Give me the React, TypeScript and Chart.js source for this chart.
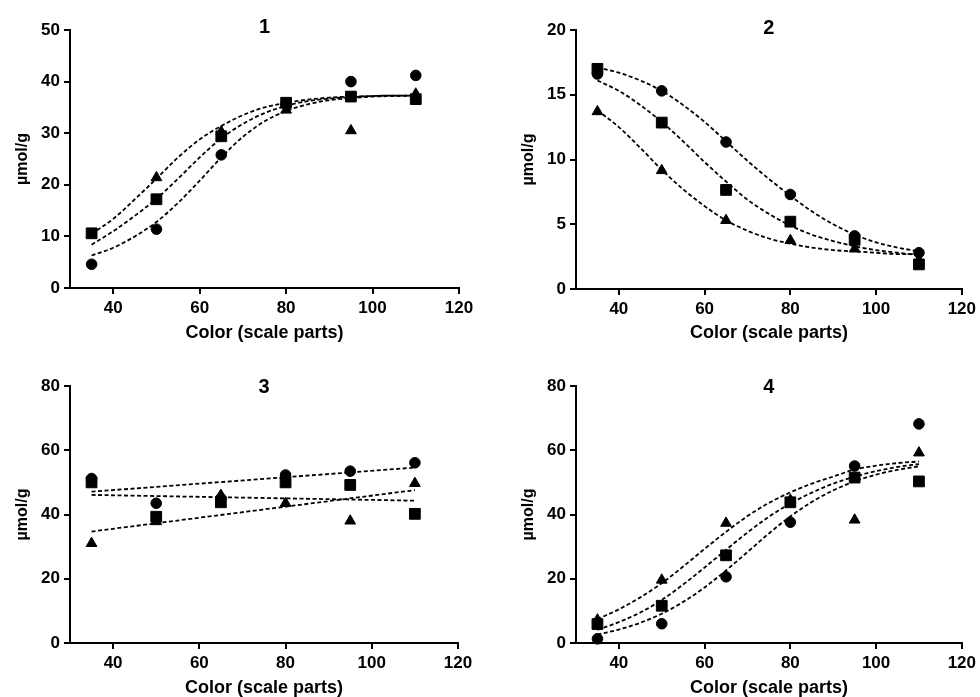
import React, { useEffect, useRef } from "react";
import { Chart, registerables } from "chart.js";
Chart.register(...registerables);

const FONT = "'Liberation Sans', Arial, sans-serif";

// Measured x positions (scale parts)
const xPoints = [35, 50, 65, 80, 95, 110];
const curveX = [35, 40, 45, 50, 55, 60, 65, 70, 75, 80, 85, 90, 95, 100, 105, 110];
const lineX = [35, 110];
const xTickValues = [40, 60, 80, 100, 120];

// Panel 1
const p1Circle = [4.6, 11.4, 25.8, 35.6, 40.0, 41.2];
const p1Square = [10.6, 17.2, 29.4, 35.9, 37.1, 36.6];
const p1Triangle = [10.4, 21.4, 30.3, 34.5, 30.5, 37.6];
const p1CircleFit = [6.3, 7.8, 10.0, 12.8, 16.5, 20.8, 25.3, 29.3, 32.3, 34.3, 35.6, 36.4, 36.8, 37.1, 37.2, 37.3];
const p1SquareFit = [8.4, 11.0, 14.0, 17.3, 21.2, 25.3, 29.0, 31.8, 33.9, 35.3, 36.2, 36.7, 37.0, 37.2, 37.3, 37.3];
const p1TriangleFit = [10.5, 13.4, 17.2, 21.2, 25.3, 28.8, 31.4, 33.5, 35.0, 35.9, 36.5, 36.9, 37.1, 37.2, 37.3, 37.3];
const p1YTicks = [0, 10, 20, 30, 40, 50];

// Panel 2
const p2Circle = [16.6, 15.3, 11.35, 7.3, 4.1, 2.8];
const p2Square = [17.0, 12.85, 7.65, 5.2, 3.8, 1.9];
const p2Triangle = [13.7, 9.15, 5.3, 3.75, 3.1, 2.2];
const p2CircleFit = [17.1, 16.7, 16.1, 15.3, 14.2, 12.9, 11.4, 9.9, 8.5, 7.2, 6.0, 5.0, 4.2, 3.6, 3.2, 2.9];
const p2SquareFit = [16.1, 15.3, 14.2, 12.9, 11.4, 9.8, 8.3, 6.9, 5.8, 4.9, 4.2, 3.7, 3.3, 3.0, 2.8, 2.6];
const p2TriangleFit = [13.8, 12.5, 10.9, 9.2, 7.7, 6.4, 5.3, 4.5, 3.9, 3.5, 3.2, 3.0, 2.9, 2.8, 2.7, 2.7];
const p2YTicks = [0, 5, 10, 15, 20];

// Panel 3
const p3Circle = [51.2, 43.5, 45.0, 52.3, 53.5, 56.1];
const p3Square = [50.0, 39.3, 43.8, 50.0, 49.2, 40.2];
const p3Triangle = [31.0, 37.8, 46.0, 43.5, 38.0, 49.7];
const p3CircleFit = [47.1, 54.6];
const p3SquareFit = [46.1, 44.3];
const p3TriangleFit = [34.7, 47.6];
const p3YTicks = [0, 20, 40, 60, 80];

// Panel 4
const p4Circle = [1.3, 6.0, 20.6, 37.6, 55.1, 68.2];
const p4Square = [5.9, 11.6, 27.3, 43.8, 51.5, 50.3];
const p4Triangle = [7.2, 19.6, 37.3, 44.5, 38.3, 59.2];
const p4CircleFit = [2.6, 4.2, 6.3, 9.1, 12.8, 17.3, 22.6, 28.3, 34.1, 39.4, 43.9, 47.5, 50.3, 52.4, 53.9, 55.0];
const p4SquareFit = [4.1, 6.5, 9.5, 13.4, 18.2, 23.5, 29.0, 34.4, 39.3, 43.4, 46.8, 49.6, 51.8, 53.5, 54.8, 55.7];
const p4TriangleFit = [7.4, 10.5, 14.2, 18.6, 23.8, 29.3, 34.6, 39.5, 43.6, 46.9, 49.6, 51.8, 54.0, 55.2, 56.0, 56.5];
const p4YTicks = [0, 20, 40, 60, 80];

const xTitle = "Color (scale parts)";
const yTitle = "µmol/g";

type PanelDef = {
  title: string;
  left: number; top: number; w: number; h: number;
  area: { L: number; R: number; T: number; B: number };
  titleDy: number;
  xTitlePad: number;
  yMax: number;
  yTicks: number[];
  circle: number[]; square: number[]; triangle: number[];
  fitX: number[];
  circleFit: number[]; squareFit: number[]; triangleFit: number[];
};

const panels: PanelDef[] = [
  { title: "1", left: 0, top: 0, w: 490, h: 350, area: { L: 70, R: 459, T: 30, B: 288 }, titleDy: -3, xTitlePad: 8,
    yMax: 50, yTicks: p1YTicks, circle: p1Circle, square: p1Square, triangle: p1Triangle,
    fitX: curveX, circleFit: p1CircleFit, squareFit: p1SquareFit, triangleFit: p1TriangleFit },
  { title: "2", left: 490, top: 0, w: 490, h: 350, area: { L: 86, R: 473, T: 30, B: 289 }, titleDy: -2, xTitlePad: 8,
    yMax: 20, yTicks: p2YTicks, circle: p2Circle, square: p2Square, triangle: p2Triangle,
    fitX: curveX, circleFit: p2CircleFit, squareFit: p2SquareFit, triangleFit: p2TriangleFit },
  { title: "3", left: 0, top: 350, w: 490, h: 347, area: { L: 70, R: 458, T: 36, B: 293 }, titleDy: 1, xTitlePad: 0,
    yMax: 80, yTicks: p3YTicks, circle: p3Circle, square: p3Square, triangle: p3Triangle,
    fitX: lineX, circleFit: p3CircleFit, squareFit: p3SquareFit, triangleFit: p3TriangleFit },
  { title: "4", left: 490, top: 350, w: 490, h: 347, area: { L: 86, R: 475, T: 36, B: 293 }, titleDy: 1, xTitlePad: 0,
    yMax: 80, yTicks: p4YTicks, circle: p4Circle, square: p4Square, triangle: p4Triangle,
    fitX: curveX, circleFit: p4CircleFit, squareFit: p4SquareFit, triangleFit: p4TriangleFit },
];

const panelTitle = {
  id: "panelTitle",
  afterDraw(chart: any, _args: any, opts: any) {
    const { ctx, chartArea } = chart;
    ctx.save();
    ctx.font = `bold 20px ${FONT}`;
    ctx.fillStyle = "#000";
    ctx.textAlign = "center";
    ctx.textBaseline = "middle";
    ctx.fillText(opts.text, (chartArea.left + chartArea.right) / 2, chartArea.top + opts.dy);
    ctx.restore();
  },
};

const Y_W = 60;

function Panel({ def }: { def: PanelDef }) {
  const ref = useRef<HTMLCanvasElement>(null);
  useEffect(() => {
    if (!ref.current) return;
    const pts = (ys: number[]) => ys.map((y, i) => ({ x: xPoints[i], y }));
    const fit = (ys: number[]) => ys.map((y, i) => ({ x: def.fitX[i], y }));
    const fitStyle = {
      showLine: true,
      pointRadius: 0,
      borderColor: "#000",
      borderWidth: 1.8,
      borderDash: [4, 2.5],
      cubicInterpolationMode: "monotone" as const,
      fill: false,
      order: 10,
      clip: false as const,
    };
    const markerStyle = {
      showLine: false,
      backgroundColor: "#000",
      borderColor: "#000",
      borderWidth: 1,
      clip: false as const,
    };
    const xh = def.h - def.area.B;
    const tickFont = { family: FONT, size: 17, weight: "bold" as const };
    const chart = new Chart(ref.current, {
      type: "scatter",
      data: {
        datasets: [
          { ...fitStyle, data: fit(def.circleFit) },
          { ...fitStyle, data: fit(def.squareFit) },
          { ...fitStyle, data: fit(def.triangleFit) },
          { ...markerStyle, data: pts(def.circle), pointStyle: "circle", pointRadius: 5.3, order: 3 },
          { ...markerStyle, data: pts(def.triangle), pointStyle: "triangle", pointRadius: 6.2, order: 2 },
          { ...markerStyle, data: pts(def.square), pointStyle: "rect", pointRadius: 7.6, order: 1 },
        ] as any,
      },
      options: {
        responsive: false,
        animation: false,
        events: [],
        layout: {
          padding: {
            left: def.area.L - Y_W,
            right: def.w - def.area.R,
            top: def.area.T,
            bottom: 0,
          },
        },
        plugins: {
          legend: { display: false },
          tooltip: { enabled: false },
          title: { display: false },
          panelTitle: { text: def.title, dy: def.titleDy },
        } as any,
        scales: {
          x: {
            type: "linear",
            min: 30,
            max: 120,
            afterBuildTicks: (s: any) => {
              s.ticks = xTickValues.map((v) => ({ value: v }));
            },
            afterFit: (s: any) => {
              s.height = xh;
            },
            grid: { drawOnChartArea: false, drawTicks: true, tickLength: 6, color: "#000", lineWidth: 2 },
            border: { display: true, color: "#000", width: 2 },
            ticks: { color: "#000", font: tickFont, padding: 4, maxRotation: 0, autoSkip: false },
            title: {
              display: true,
              text: xTitle,
              color: "#000",
              font: { family: FONT, size: 18, weight: "bold", lineHeight: 1 },
              padding: { top: 0, bottom: def.xTitlePad },
            },
          },
          y: {
            type: "linear",
            min: 0,
            max: def.yMax,
            afterBuildTicks: (s: any) => {
              s.ticks = def.yTicks.map((v) => ({ value: v }));
            },
            afterFit: (s: any) => {
              s.width = Y_W;
            },
            grid: { drawOnChartArea: false, drawTicks: true, tickLength: 6, color: "#000", lineWidth: 2 },
            border: { display: true, color: "#000", width: 2 },
            ticks: { color: "#000", font: tickFont, padding: 4, autoSkip: false },
            title: {
              display: true,
              text: yTitle,
              color: "#000",
              font: { family: FONT, size: 16, weight: "bold", lineHeight: 1.2 },
              padding: { top: 2.5, bottom: 0 },
            },
          },
        } as any,
      },
      plugins: [panelTitle],
    });
    return () => chart.destroy();
  }, [def]);
  return (
    <canvas
      ref={ref}
      width={def.w}
      height={def.h}
      style={{ position: "absolute", left: def.left, top: def.top, width: def.w, height: def.h }}
    />
  );
}

export default function App() {
  return (
    <div style={{ position: "fixed", left: 0, top: 0, width: 980, height: 697, background: "#fff", overflow: "hidden" }}>
      {panels.map((p) => (
        <Panel key={p.title} def={p} />
      ))}
    </div>
  );
}
